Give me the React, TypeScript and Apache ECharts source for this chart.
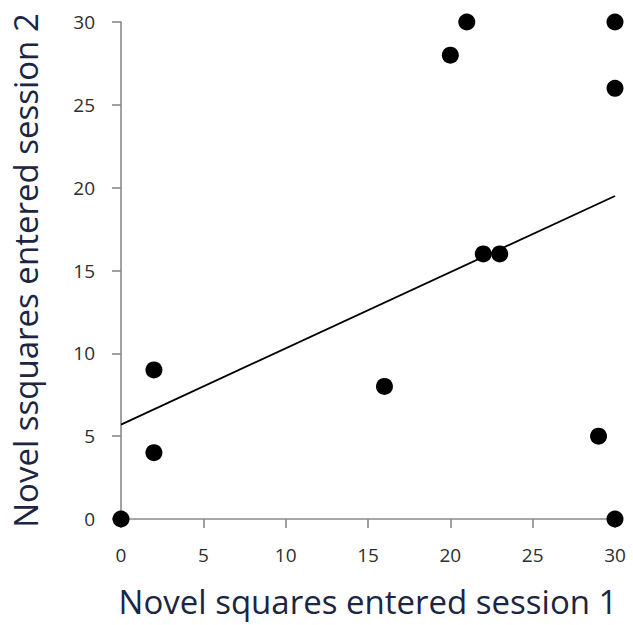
import React, { useEffect, useRef } from "react";
import * as echarts from "echarts";

const session1 = [0, 2, 2, 16, 20, 21, 22, 23, 29, 30, 30, 30];
const session2 = [0, 9, 4, 8, 28, 30, 16, 16, 5, 30, 26, 0];
const trendX = [0, 30];
const trendY = [5.7, 19.5];
const tickValues = [0, 5, 10, 15, 20, 25, 30];

export default function App() {
  const ref = useRef<HTMLDivElement>(null);
  useEffect(() => {
    if (!ref.current) return;
    const chart = echarts.init(ref.current, undefined, { renderer: "svg" });
    const axisCommon = {
      min: tickValues[0],
      max: tickValues[tickValues.length - 1],
      interval: 5,
      splitLine: { show: false },
      axisLine: { show: true, onZero: false, lineStyle: { color: "#8a8a8a", width: 1.6 } },
      axisTick: { show: true, length: 9, lineStyle: { color: "#8a8a8a", width: 1.6 } },
      axisLabel: { color: "#2e2e2e", fontSize: 19, fontFamily: "Open Sans", margin: 26 },
      nameLocation: "middle" as const,
      nameTextStyle: { color: "#1c2541", fontSize: 33, fontFamily: "Open Sans" },
    };
    chart.setOption({
      animation: false,
      backgroundColor: "#ffffff",
      grid: { left: 121, right: 18, top: 22, bottom: 106, containLabel: false, outerBoundsMode: "none" },
      xAxis: { type: "value", ...axisCommon, name: "Novel squares entered session 1", nameGap: 66 },
      yAxis: { type: "value", ...axisCommon, name: "Novel ssquares entered session 2", nameGap: 79 },
      series: [
        {
          type: "line",
          data: trendX.map((x, i) => [x, trendY[i]]),
          showSymbol: false,
          symbol: "none",
          lineStyle: { color: "#000000", width: 1.8 },
          z: 2,
        },
        {
          type: "scatter",
          data: session1.map((x, i) => [x, session2[i]]),
          symbolSize: 17,
          itemStyle: { color: "#000000", opacity: 1 },
          clip: false,
          z: 3,
        },
      ],
    });
    return () => chart.dispose();
  }, []);
  return <div ref={ref} style={{ width: 633, height: 625, position: "absolute", left: 0, top: 0 }} />;
}
